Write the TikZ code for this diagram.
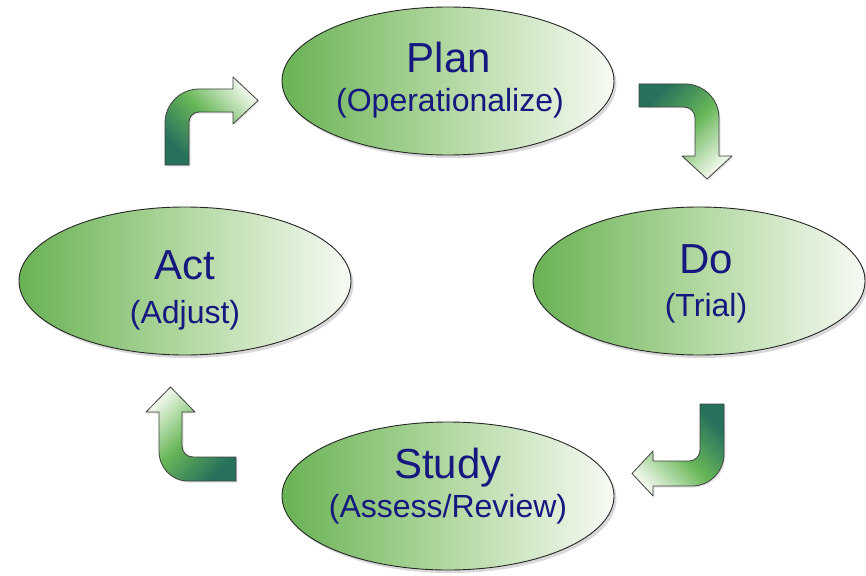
\documentclass[tikz,border=0pt]{standalone}
\usepackage{fontspec}
\setmainfont{Liberation Sans}
\usetikzlibrary{shapes.geometric,shadows}

\definecolor{inkblue}{RGB}{22,24,128}
\definecolor{leafdark}{RGB}{105,178,85}
\definecolor{leafmid}{RGB}{178,216,160}
\definecolor{leaflight}{RGB}{246,250,244}
\definecolor{arrowdark}{RGB}{38,112,92}
\definecolor{arrowmid}{RGB}{104,182,88}
\definecolor{arrowlight}{RGB}{236,246,230}

\tikzset{
  phase/.style={ellipse, minimum width=332pt, minimum height=148pt, inner sep=0pt,
    draw=black!85, line width=0.9pt,
    left color=leafdark, right color=leaflight, middle color=leafmid,
    drop shadow={opacity=0.3, shadow xshift=2.5pt, shadow yshift=-3pt}},
  title/.style={font=\fontsize{42}{42}\selectfont, text=inkblue, inner sep=0pt, anchor=base},
  subtitle/.style={font=\fontsize{32}{32}\selectfont, text=inkblue, inner sep=0pt, anchor=base},
  blockarrow/.style={draw=black!75, line width=0.8pt, line join=round,
    top color=arrowlight, bottom color=arrowdark, middle color=arrowmid,
    drop shadow={opacity=0.2, shadow xshift=1.5pt, shadow yshift=-1.5pt}}
}

\begin{document}
\begin{tikzpicture}[x=1pt, y=-1pt]
  % canvas
  \fill[white] (0,0) rectangle (866,575);
  \useasboundingbox (0,0) rectangle (866,575);

  % the four phases of the cycle
  \node[phase] (plan)  at (448,81)  {};
  \node[phase] (do)    at (699,281) {};
  \node[phase] (study) at (448,496) {};
  \node[phase] (act)   at (185,281) {};

  % phase labels
  \node[title]    (plan-t)  at (449,73)  {Plan};
  \node[subtitle] (plan-s)  at (450,111) {(Operationalize)};
  \node[title]    (do-t)    at (706,273) {Do};
  \node[subtitle] (do-s)    at (706,316) {(Trial)};
  \node[title]    (study-t) at (448,478) {Study};
  \node[subtitle] (study-s) at (448,517) {(Assess/Review)};
  \node[title]    (act-t)   at (185,279) {Act};
  \node[subtitle] (act-s)   at (185,323) {(Adjust)};

  % bent block arrows, tail dark and head light
  % Act -> Plan
  \path[blockarrow, shading angle=-45]
    (165,165) -- (165,123) .. controls (165,104.2) and (180.2,89) .. (199,89)
    -- (233,89) -- (233,77) -- (258,100.5) -- (233,124) -- (233,112)
    -- (199,112) .. controls (193.5,112) and (189,116.5) .. (189,122)
    -- (189,165) -- cycle;
  % Plan -> Do
  \path[blockarrow, shading angle=-135]
    (639,84) -- (685,84) .. controls (703.8,84) and (719,99.2) .. (719,118)
    -- (719,156) -- (732,156) -- (707,179) -- (682,156) -- (695,156)
    -- (695,118) .. controls (695,111.9) and (690.1,107) .. (684,107)
    -- (639,107) -- cycle;
  % Do -> Study
  \path[blockarrow, shading angle=135]
    (700,404) -- (724,404) -- (724,454) .. controls (724,471.7) and (709.7,486) .. (692,486)
    -- (653,486) -- (653,496) -- (632,473.5) -- (653,451) -- (653,461)
    -- (689,461) .. controls (695.1,461) and (700,456.1) .. (700,450) -- cycle;
  % Study -> Act
  \path[blockarrow, shading angle=45]
    (236,481) -- (188,481) .. controls (171.4,481) and (159,467.6) .. (159,451)
    -- (159,412) -- (146,412) -- (170.5,387) -- (195,412) -- (182,412)
    -- (182,446) .. controls (182,452.1) and (186.9,457) .. (193,457)
    -- (236,457) -- cycle;
\end{tikzpicture}
\end{document}
